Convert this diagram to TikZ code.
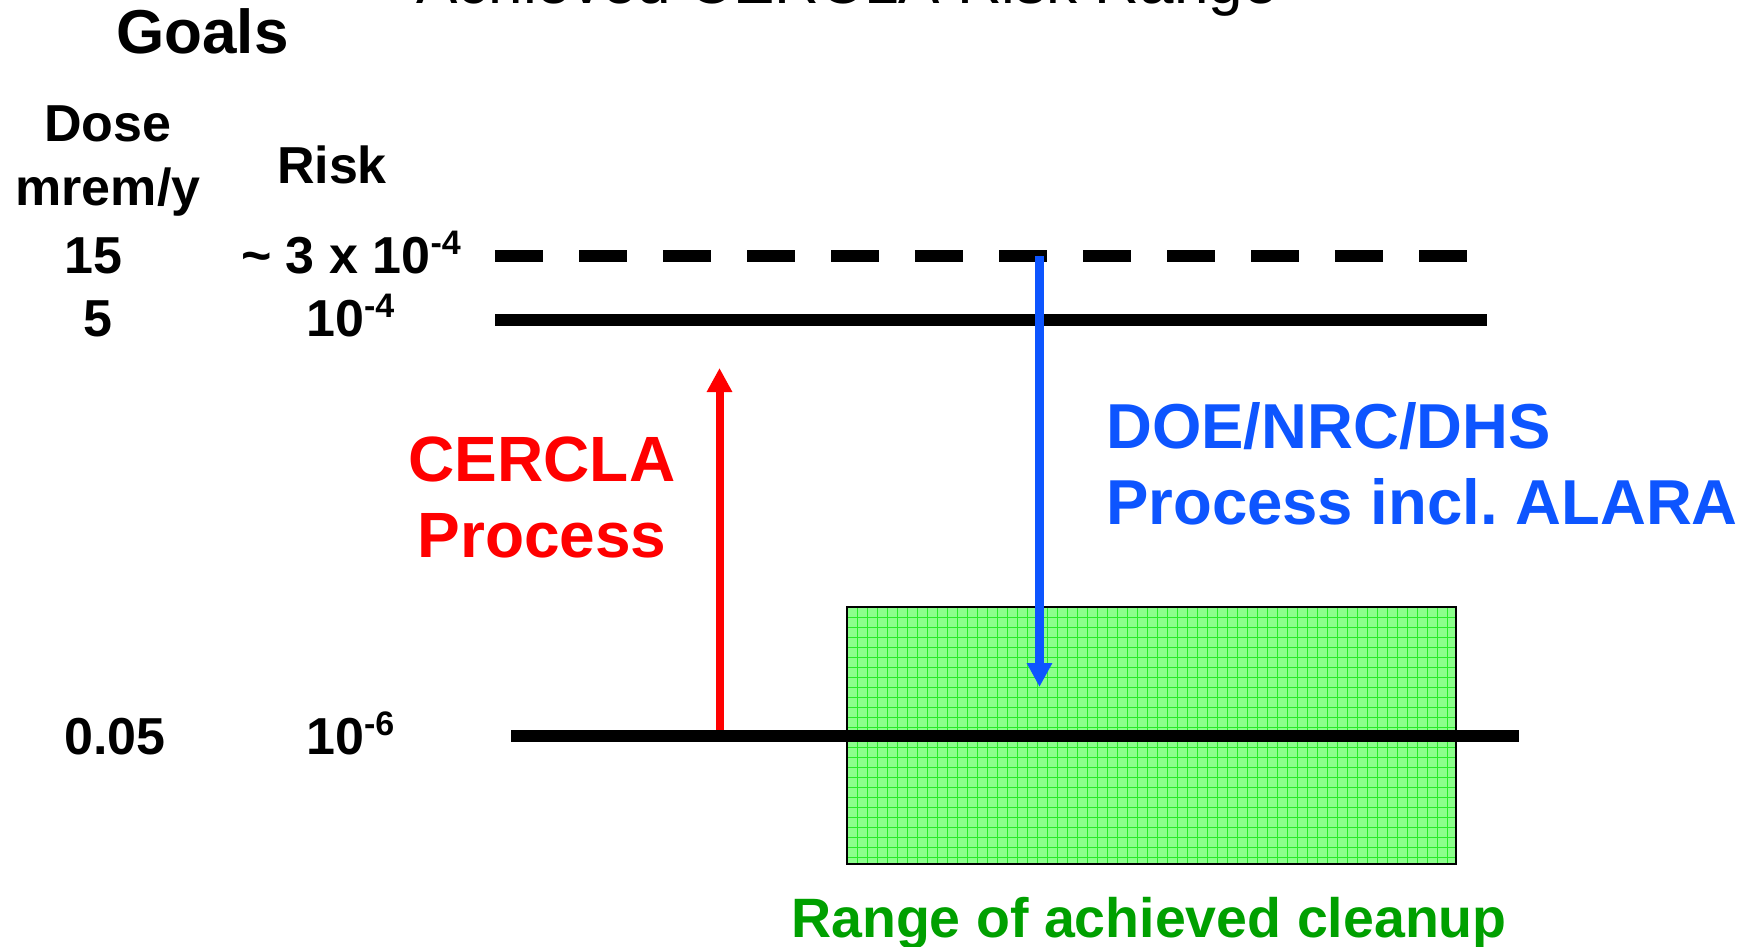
\documentclass[tikz,border=0pt]{standalone}
\usepackage{fontspec}
\setmainfont{Liberation Sans}
\usetikzlibrary{arrows.meta}
\definecolor{cred}{RGB}{255,0,0}
\definecolor{cblue}{RGB}{13,85,255}
\definecolor{cgreen}{RGB}{0,160,0}
\definecolor{boxfill}{RGB}{140,255,140}
\definecolor{gridc}{RGB}{40,235,40}
\newcommand{\fsz}[1]{\fontsize{#1}{#1}\selectfont}
\newcommand{\supx}[1]{\raisebox{19pt}{\fsz{34}#1}}
\frenchspacing
\begin{document}
\begin{tikzpicture}[x=1pt,y=-1pt,
  lbl/.style={inner sep=0pt, anchor=base, font=\bfseries\fsz{52}},
  lblw/.style={lbl, anchor=base west},
  val/.style={lblw, font=\bfseries\fsz{52}},
  redtxt/.style={lbl, font=\bfseries\fsz{64}, text=cred},
  bluetxt/.style={lblw, font=\bfseries\fsz{63.5}, text=cblue},
  level/.style={line width=12pt, line cap=butt},
  arr/.style={line width=8pt, line cap=butt, -{Triangle[width=24pt,length=24pt]}}]
\useasboundingbox (0,0) rectangle (1756,947);
% title (cut off at the top, as in the reference)
\node[inner sep=0pt, anchor=base west, font=\fsz{62}] (title) at (416,4) {Achieved CERCLA Risk Range};
% range box
\node (range) [rectangle, fill=boxfill, minimum width=609pt, minimum height=257pt, inner sep=0pt] at (1151.5,735.5) {};
\foreach \gx in {857,867,...,1450} \draw[gridc, line width=0.8pt] (\gx,607) -- (\gx,864);
\foreach \gy in {617,627,...,860} \draw[gridc, line width=0.8pt] (847,\gy) -- (1456,\gy);
\draw[line width=2.5pt] (range.north west) rectangle (range.south east);
% level coordinates
\coordinate (dA) at (495,256);
\coordinate (dB) at (1467,256);
\coordinate (sA) at (495,320);
\coordinate (sB) at (1487,320);
\coordinate (bA) at (511,736);
\coordinate (bB) at (1519,736);
\coordinate (redS) at (719.5,736);
\coordinate (redE) at (719.5,368);
\coordinate (blueS) at (1039.5,256);
\coordinate (blueE) at (1039.5,687);
% red arrow (under the line)
\draw[arr, cred] (redS) -- (redE);
% levels
\draw[level, dash pattern=on 48pt off 36pt] (dA) -- (dB);
\draw[level] (sA) -- (sB);
\draw[level] (bA) -- (bB);
% blue arrow
\draw[arr, cblue, line width=8.5pt] (blueS) -- (blueE);
% left labels
\node[lblw, font=\bfseries\fsz{62}] (goals) at (116,54) {Goals};
\node[lbl] (dose) at (108,142) {Dose};
\node[lbl] (unit) at (108,205) {mrem/y};
\node[lbl] (risk) at (332,183) {Risk};
\node[lblw] (d15) at (64,273) {15};
\node[val] (r15) at (241,273) {\textasciitilde\ 3 x 10\supx{-4}};
\node[lbl] (d5) at (98,336) {5};
\node[val] (r5) at (306,336) {10\supx{-4}};
\node[lblw] (d005) at (64,754) {0.05};
\node[val] (r005) at (306,754) {10\supx{-6}};
% process labels
\node[redtxt] (cer1) at (542,481) {CERCLA};
\node[redtxt] (cer2) at (542,557) {Process};
\node[bluetxt] (doe1) at (1106,448) {DOE/NRC/DHS};
\node[bluetxt] (doe2) at (1106,524) {Process incl.\ ALARA};
\node[lbl, font=\bfseries\fsz{55.5}, text=cgreen] (rangelbl) at (1149,937) {Range of achieved cleanup};
\end{tikzpicture}
\end{document}
